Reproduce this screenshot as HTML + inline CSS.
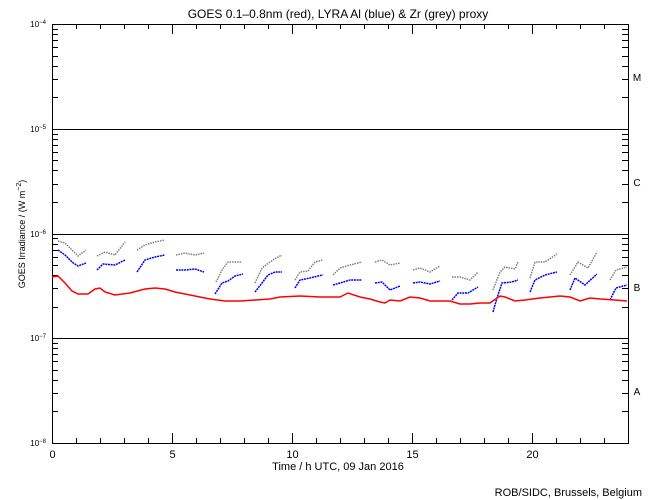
<!DOCTYPE html>
<html><head><meta charset="utf-8"><style>
body{margin:0;background:#fff}
svg{display:block;font-family:"Liberation Sans",sans-serif}
</style></head><body>
<svg id="s" width="650" height="500" xmlns="http://www.w3.org/2000/svg">
<rect width="650" height="500" fill="#fff"/>
<text x="338" y="18" font-size="12" text-anchor="middle">GOES 0.1–0.8nm (red), LYRA Al (blue) &amp; Zr (grey) proxy</text>
<g id="ax" stroke="#000" stroke-width="1" fill="none"></g>
<g id="lab" font-size="11"></g>
<text transform="translate(25,234) rotate(-90)" font-size="9" text-anchor="middle">GOES Irradiance / (W m<tspan dy="-4" font-size="7">−2</tspan><tspan dy="4">)</tspan></text>
<text x="637" y="81" font-size="10" text-anchor="middle">M</text>
<text x="637" y="186" font-size="10" text-anchor="middle">C</text>
<text x="637" y="291" font-size="10" text-anchor="middle">B</text>
<text x="637" y="395" font-size="10" text-anchor="middle">A</text>
<text x="338" y="470" font-size="11" text-anchor="middle">Time / h UTC, 09 Jan 2016</text>
<text x="642" y="496" font-size="11" text-anchor="end">ROB/SIDC, Brussels, Belgium</text>
<g id="data" fill="none"></g>
</svg>
<script>
var NS="http://www.w3.org/2000/svg",x0=52,x1=628,y0=24,y1=443,dec=(y1-y0)/4;
var ax=document.getElementById('ax'),lab=document.getElementById('lab'),dg=document.getElementById('data');
function el(p,t,a,txt){var e=document.createElementNS(NS,t);for(var k in a)e.setAttribute(k,a[k]);if(txt)e.textContent=txt;p.appendChild(e);return e;}
el(ax,'rect',{x:x0+.5,y:y0+.5,width:x1-x0,height:y1-y0});
for(var d=0;d<4;d++){var yb=y0+dec*(d+1);
 for(var m=2;m<=9;m++){var y=Math.round(yb-dec*Math.log10(m))+.5;
  el(ax,'line',{x1:x0,x2:x0+6,y1:y,y2:y});el(ax,'line',{x1:x1-6,x2:x1,y1:y,y2:y});}}
for(d=1;d<4;d++){var y=Math.round(y0+dec*d)+.5;el(ax,'line',{x1:x0,x2:x1,y1:y,y2:y});}
for(d=0;d<=4;d++){var y=Math.round(y0+dec*d);
 var t=el(lab,'text',{x:46,y:y+3,'text-anchor':'end','font-size':8},'10');
 var ts=el(t,'tspan',{dy:-3,'font-size':6},'−'+(4+d));}
for(var h=0;h<=24;h++){var x=x0+24*h+.5,L=h%5==0?10:5;
 el(ax,'line',{x1:x,x2:x,y1:y1,y2:y1-L});el(ax,'line',{x1:x,x2:x,y1:y0,y2:y0+L});
 if(h%5==0)el(lab,'text',{x:x,y:y1+15,'text-anchor':'middle'},''+h);}
var grey=[[[58,241],[65,243],[72,250],[78,256],[86,250]],[[97,256],[105,252],[115,255],[125,242]],[[137,250],[145,245],[155,242],[165,240]],[[176,255],[185,253],[195,255],[204,253]],[[216,282],[222,270],[228,262],[233,262],[242,262]],[[255,283],[262,268],[270,262],[276,258],[282,255]],[[295,280],[300,272],[308,271],[315,262],[323,260]],[[333,275],[340,268],[350,265],[362,262]],[[375,262],[382,260],[390,265],[400,263]],[[413,270],[420,268],[430,272],[440,266]],[[452,277],[460,277],[470,280],[478,272]],[[493,290],[500,272],[505,267],[515,269],[518,262]],[[530,278],[535,262],[545,262],[557,254]],[[570,275],[578,262],[588,268],[597,252]],[[610,280],[616,270],[627,267]]];
var blue=[[[58,250],[65,255],[72,262],[78,266],[86,263]],[[97,270],[103,264],[115,265],[125,260]],[[137,272],[145,260],[155,257],[165,255]],[[176,270],[185,270],[195,269],[204,272]],[[215,294],[222,283],[228,281],[235,276],[243,274]],[[255,292],[262,283],[268,275],[275,272],[282,272]],[[295,288],[300,280],[310,278],[318,276],[323,275]],[[333,285],[340,283],[350,280],[362,280]],[[375,283],[382,282],[390,290],[400,286]],[[413,283],[420,282],[430,284],[440,281]],[[452,300],[458,293],[468,293],[478,287]],[[493,312],[497,298],[502,283],[512,282],[518,280]],[[530,292],[535,280],[545,275],[557,272]],[[570,290],[575,278],[585,285],[597,274]],[[610,300],[616,288],[627,285]]];
var red=[[52,277],[58,276],[65,283],[72,291],[78,294],[88,294],[95,289],[100,288],[105,292],[115,295],[130,293],[145,289],[155,288],[165,289],[175,292],[185,294],[195,296],[210,299],[225,301],[240,301],[255,300],[270,299],[280,297],[300,296],[320,297],[340,297],[348,293],[360,297],[370,299],[380,302],[385,303],[390,300],[400,301],[410,297],[420,298],[430,301],[440,301],[450,301],[460,304],[470,304],[480,303],[490,303],[500,296],[505,297],[515,301],[525,300],[540,298],[550,297],[560,296],[570,297],[580,301],[590,298],[600,299],[615,300],[627,301]];
function pl(pts,c,da){el(dg,'polyline',{points:pts.map(function(p){return p.join(',')}).join(' '),stroke:c,'stroke-width':1.5,'stroke-dasharray':da||'none'});}
grey.forEach(function(s){pl(s,'#808080','1.5 1');});
blue.forEach(function(s){pl(s,'#0000ff','2 0.7');});
pl(red,'#ff0000');
</script>
</body></html>
